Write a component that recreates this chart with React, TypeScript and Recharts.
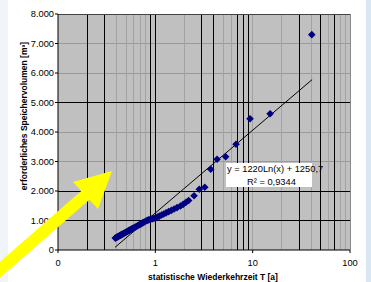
import React from "react";
import {
  ScatterChart,
  Scatter,
  XAxis,
  YAxis,
  ReferenceLine,
  ReferenceArea,
  Label,
} from "recharts";

// statistische Wiederkehrzeit T [a]
const periodT = [
  0.388, 0.394, 0.401, 0.409, 0.416, 0.424, 0.432, 0.44, 0.449, 0.458, 0.467, 0.477, 0.488, 0.498,
  0.509, 0.521, 0.533, 0.546, 0.56, 0.574, 0.589, 0.604, 0.621, 0.638, 0.657, 0.677, 0.697, 0.719,
  0.743, 0.768, 0.795, 0.824, 0.855, 0.888, 0.924, 0.965, 1.006, 1.05, 1.1, 1.16, 1.22, 1.29, 1.37,
  1.46, 1.56, 1.67, 1.81, 1.93, 2.07, 2.2, 2.5, 2.83, 3.22, 3.71, 4.31, 5.28, 6.75, 9.4, 15.1, 40.5,
];
// erforderliches Speichervolumen [m³]
const volume = [
  403, 415, 430, 445, 459, 474, 489, 503, 520, 536, 551, 568, 586, 602,
  620, 638, 656, 675, 696, 715, 736, 756, 778, 799, 823, 847, 870, 895,
  921, 947, 975, 1003, 1020, 1040, 1055, 1070, 1085, 1118, 1150, 1186, 1221, 1259, 1300,
  1343, 1389, 1435, 1490, 1545, 1620, 1680, 1841, 2058, 2125, 2736, 3074, 3163, 3583, 4450, 4620, 7300,
];

// trend line y = 1220Ln(x) + 1250,7, end points as drawn
const trendT = [0.385, 40.8];
const trendV = [90, 5775];

const xTicks = [0.1, 1, 10, 100];
const yTicks = [0, 1000, 2000, 3000, 4000, 5000, 6000, 7000, 8000];

const darkX = [0.2, 0.3, 0.9, 1, 3, 4, 7, 8, 9, 30, 50, 70];
const lightX = [0.4, 0.5, 0.6, 0.7, 0.8, 2, 5, 6, 10, 20, 40, 60, 80, 90];
const darkY = [1000, 2000, 5000];
const lightY = [3000, 4000, 6000, 7000];

const font = "'Liberation Sans', Arial, sans-serif";

const points = periodT.map((t, i) => ({ x: t, y: volume[i] }));
const trend = trendT.map((t, i) => ({ x: t, y: trendV[i] }));

const fmtY = (v: number) => (v >= 1000 ? `${Math.floor(v / 1000)}.${String(v % 1000).padStart(3, "0")}` : String(v));
const fmtX = (v: number) => (v < 1 ? "0" : String(v));

const Diamond = (props: any) => {
  const { cx, cy } = props;
  if (cx == null || cy == null) return <g />;
  const r = 3.8;
  return <path d={`M${cx},${cy - r}L${cx + r},${cy}L${cx},${cy + r}L${cx - r},${cy}Z`} fill="#000080" />;
};

export default function App() {
  return (
    <div style={{ position: "absolute", left: 0, top: 0, width: 371, height: 282, background: "#fff", fontFamily: font }}>
      <div style={{ position: "absolute", left: 0, top: 0, width: 8, height: 282, background: "#f1f4f9" }} />
      <div style={{ position: "absolute", left: 366, top: 0, width: 5, height: 282, background: "#d9e6f3" }} />
      <ScatterChart width={371} height={282} margin={{ top: 14, right: 21, bottom: 0, left: 0 }}>
        <ReferenceArea x1={0.1} x2={100} y1={0} y2={8000} fill="#c0c0c0" fillOpacity={1} stroke="none" />
        {lightY.map((v) => (
          <ReferenceLine key={"ly" + v} y={v} stroke="#999" shapeRendering="crispEdges" />
        ))}
        {lightX.map((v) => (
          <ReferenceLine key={"lx" + v} x={v} stroke="#a3a3a3" shapeRendering="crispEdges" />
        ))}
        {darkY.map((v) => (
          <ReferenceLine key={"dy" + v} y={v} stroke="#000" shapeRendering="crispEdges" />
        ))}
        {darkX.map((v) => (
          <ReferenceLine key={"dx" + v} x={v} stroke="#000" shapeRendering="crispEdges" />
        ))}
        <ReferenceLine y={8000} stroke="#444" shapeRendering="crispEdges" />
        <ReferenceLine x={100} stroke="#888" shapeRendering="crispEdges" />
        <XAxis
          type="number"
          dataKey="x"
          scale="log"
          domain={[0.1, 100]}
          ticks={xTicks}
          allowDataOverflow
          height={32}
          tickFormatter={fmtX}
          tick={{ fontSize: 9.3, fill: "#000", fontFamily: font }}
          tickSize={3}
          tickMargin={6}
          axisLine={{ stroke: "#000" }}
          tickLine={{ stroke: "#000" }}
        >
          <Label
            content={() => (
              <text x={213} y={280} textAnchor="middle" fontSize={8.5} fontWeight="bold" fontFamily={font} fill="#000">
                statistische Wiederkehrzeit T [a]
              </text>
            )}
          />
        </XAxis>
        <YAxis
          type="number"
          dataKey="y"
          domain={[0, 8000]}
          ticks={yTicks}
          width={58}
          tickFormatter={fmtY}
          tick={{ fontSize: 9.3, fill: "#000", fontFamily: font }}
          tickSize={3}
          tickMargin={1}
          axisLine={{ stroke: "#000" }}
          tickLine={{ stroke: "#000" }}
        >
          <Label
            content={() => (
              <text
                x={24}
                y={116}
                transform="rotate(-90 24 116)"
                textAnchor="middle"
                dominantBaseline="central"
                fontSize={8.5}
                fontWeight="bold"
                fontFamily={font}
                fill="#000"
              >
                erforderliches Speichervolumen [m³]
              </text>
            )}
          />
        </YAxis>
        <Scatter data={trend} line={{ stroke: "#000", strokeWidth: 1 }} shape={() => <g />} isAnimationActive={false} />
        <Scatter data={points} shape={Diamond} isAnimationActive={false} />
      </ScatterChart>
      <div style={{ position: "absolute", left: 226, top: 163, width: 86, height: 24, background: "#fff" }} />
      <div style={{ position: "absolute", left: 227, top: 163, fontSize: 9.3, lineHeight: "12px", whiteSpace: "nowrap", color: "#000" }}>
        y = 1220Ln(x) + 1250,7
      </div>
      <div style={{ position: "absolute", left: 247, top: 176, fontSize: 9.3, lineHeight: "12px", whiteSpace: "nowrap", color: "#000" }}>
        R² = 0,9344
      </div>
      <svg width={371} height={282} style={{ position: "absolute", left: 0, top: 0, pointerEvents: "none" }}>
        <line x1={-6} y1={275} x2={88} y2={193} stroke="#ffff00" strokeWidth={12} />
        <polygon points="112,171 73,182 98,209" fill="#ffff00" />
      </svg>
    </div>
  );
}
